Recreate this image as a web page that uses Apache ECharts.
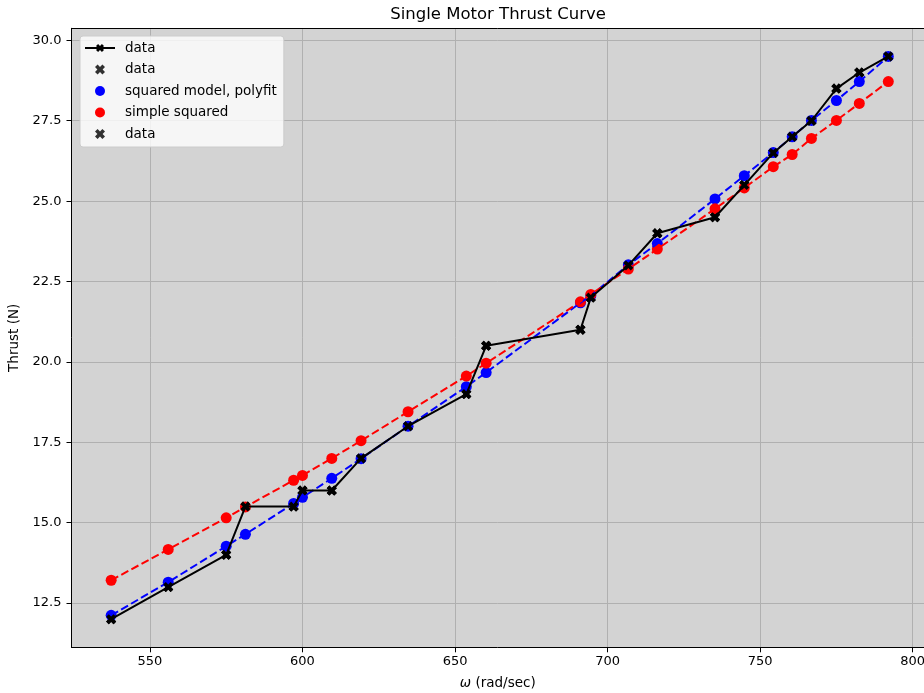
<!DOCTYPE html>
<html>
<head>
<meta charset="utf-8">
<script src="https://cdn.jsdelivr.net/npm/echarts@6/dist/echarts.min.js"></script>
<style>
html,body{margin:0;padding:0;background:#fff;}
#chart{width:924px;height:693px;}
</style>
</head>
<body>
<div id="chart"></div>
<script>
// Rotor speed (rad/sec)
var omega = [537.3, 556.0, 575.0, 581.3, 597.1, 600.0, 609.6, 619.2, 634.6, 653.7, 660.2, 691.1, 694.5, 706.8, 716.3, 735.2, 744.8, 754.3, 760.5, 766.8, 775.0, 782.5, 792.0];
// Measured thrust (N)
var thrust = [12.0, 13.0, 14.0, 15.5, 15.5, 16.0, 16.0, 17.0, 18.0, 19.0, 20.5, 21.0, 22.0, 23.0, 24.0, 24.5, 25.5, 26.5, 27.0, 27.5, 28.5, 29.0, 29.5];
// Squared model, polyfit (N)
var polyfit = [12.12, 13.15, 14.27, 14.64, 15.60, 15.79, 16.38, 16.99, 18.00, 19.23, 19.67, 21.84, 22.06, 23.02, 23.68, 25.07, 25.79, 26.51, 27.00, 27.51, 28.13, 28.72, 29.50];
// Simple squared model (N)
var simple = [13.21, 14.17, 15.15, 15.49, 16.32, 16.47, 17.00, 17.55, 18.45, 19.56, 19.96, 21.87, 22.10, 22.89, 23.51, 24.76, 25.41, 26.07, 26.45, 26.95, 27.51, 28.04, 28.72];

var xTicks = [550, 600, 650, 700, 750, 800];
var yTicks = [12.5, 15.0, 17.5, 20.0, 22.5, 25.0, 27.5, 30.0];

var legendNames = {d1: 'data', d2: 'data', pf: 'squared model, polyfit', ss: 'simple squared', d3: 'data'};

function pairs(xs, ys) { return xs.map(function (x, i) { return [x, ys[i]]; }); }

var XMARK = 'path://M0,2.6 L2.6,0 L5,2.4 L7.4,0 L10,2.6 L7.6,5 L10,7.4 L7.4,10 L5,7.6 L2.6,10 L0,7.4 L2.4,5 Z';
var FONT = 'DejaVu Sans';
var XMIN = 524.3, XMAX = 803.7;

var chart = echarts.init(document.getElementById('chart'), null, {renderer: 'canvas'});
chart.setOption({
  animation: false,
  textStyle: {fontFamily: FONT},
  title: {
    text: 'Single Motor Thrust Curve',
    left: 498, top: 0, textAlign: 'center',
    padding: [6, 0, 0, 0],
    textStyle: {fontFamily: FONT, fontSize: 16.5, fontWeight: 'normal', color: '#000'}
  },
  grid: {
    left: 71.5, right: 0, top: 28.3, bottom: 45.7,
    outerBoundsMode: 'none', containLabel: false,
    show: true, backgroundColor: '#d3d3d3', borderWidth: 0
  },
  legend: {
    orient: 'vertical', left: 80, top: 36,
    data: ['d1', 'd2', 'pf', 'ss', 'd3'],
    formatter: function (n) { return legendNames[n]; },
    backgroundColor: 'rgba(255,255,255,0.8)',
    borderColor: '#cccccc', borderWidth: 1, borderRadius: 3,
    padding: [5, 7, 6, 4],
    itemWidth: 30, itemHeight: 10, itemGap: 7.5,
    selectedMode: false,
    textStyle: {fontFamily: FONT, fontSize: 13.5, color: '#000', padding: [0, 0, 0, 5]}
  },
  xAxis: [{
    type: 'value', min: XMIN, max: XMAX,
    name: '{i|ω} (rad/sec)', nameLocation: 'middle', nameGap: 29.5,
    nameTextStyle: {fontFamily: FONT, fontSize: 13.5, color: '#000',
      rich: {i: {fontFamily: FONT, fontSize: 13.5, fontStyle: 'italic', color: '#000'}}},
    axisLine: {show: true, lineStyle: {color: '#000', width: 1}},
    axisTick: {show: true, length: 5, lineStyle: {color: '#000', width: 1}, customValues: xTicks},
    axisLabel: {customValues: xTicks, margin: 8, fontFamily: FONT, fontSize: 13, color: '#000',
      formatter: function (v) { return String(Math.round(v)); }},
    splitLine: {show: true, lineStyle: {color: '#b0b0b0', width: 1}}
  }, {
    type: 'value', position: 'top', min: XMIN, max: XMAX,
    axisLine: {show: true, onZero: false, lineStyle: {color: '#000', width: 1}},
    axisTick: {show: false}, axisLabel: {show: false}, splitLine: {show: false}
  }],
  yAxis: {
    type: 'value', min: 11.125, max: 30.375,
    name: 'Thrust (N)', nameLocation: 'middle', nameGap: 43,
    nameTextStyle: {fontFamily: FONT, fontSize: 13.5, color: '#000'},
    axisLine: {show: true, onZero: false, lineStyle: {color: '#000', width: 1}},
    axisTick: {show: true, length: 5, lineStyle: {color: '#000', width: 1}, customValues: yTicks},
    axisLabel: {customValues: yTicks, margin: 10, fontFamily: FONT, fontSize: 13, color: '#000',
      formatter: function (v) { return v.toFixed(1); }},
    splitLine: {show: true, lineStyle: {color: '#b0b0b0', width: 1}}
  },
  series: [
    {name: 'pfLine', type: 'line', data: pairs(omega, polyfit), showSymbol: false, symbol: 'none',
      lineStyle: {color: '#0000ff', width: 2, type: [8, 3.5]}, silent: true},
    {name: 'ssLine', type: 'line', data: pairs(omega, simple), showSymbol: false, symbol: 'none',
      lineStyle: {color: '#ff0000', width: 2, type: [8, 3.5]}, silent: true},
    {name: 'd1', type: 'line', data: pairs(omega, thrust), symbol: XMARK, symbolSize: 10,
      itemStyle: {color: '#000'}, lineStyle: {color: '#000', width: 2}},
    {name: 'd2', type: 'scatter', data: pairs(omega, thrust), symbol: XMARK, symbolSize: 10,
      itemStyle: {color: '#000'}},
    {name: 'd3', type: 'scatter', data: pairs(omega, thrust), symbol: XMARK, symbolSize: 10,
      itemStyle: {color: '#000'}},
    {name: 'pf', type: 'scatter', data: pairs(omega, polyfit), symbol: 'circle', symbolSize: 11,
      itemStyle: {color: '#0000ff', opacity: 1}},
    {name: 'ss', type: 'scatter', data: pairs(omega, simple), symbol: 'circle', symbolSize: 11,
      itemStyle: {color: '#ff0000', opacity: 1}}
  ]
});
</script>
</body>
</html>
